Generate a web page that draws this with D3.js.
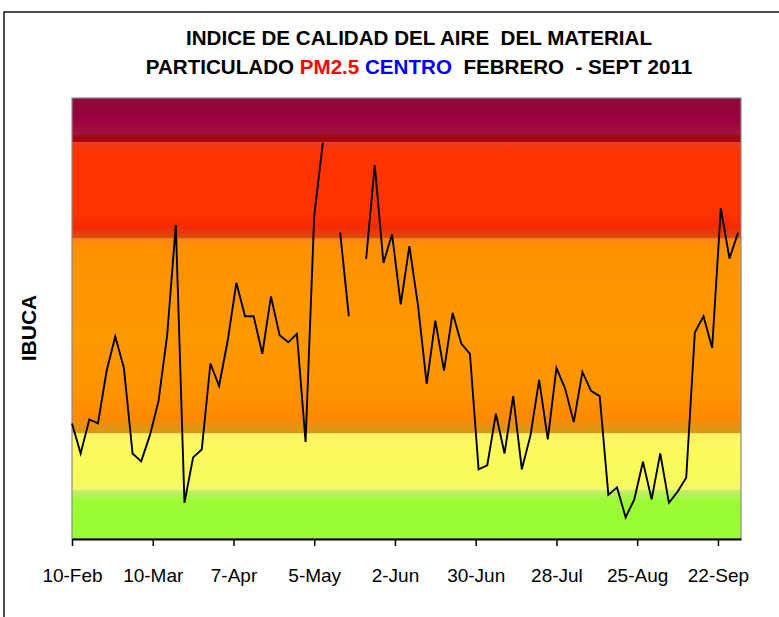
<!DOCTYPE html>
<html>
<head>
<meta charset="utf-8">
<script src="https://cdn.jsdelivr.net/npm/d3@7"></script>
<style>
  body { margin: 0; background: #fff; }
  svg { display: block; }
</style>
</head>
<body>
<div id="chart"></div>
<script>
// samples every 3 days starting 10-Feb-2011 (null = no sample)
const startDate = "2011-02-10";
const stepDays = 3;
const ibuca = [
  26.2, 19.4, 27.1, 26.2, 38.1, 45.9, 38.8, 19.4, 17.6, 23.5,
  31.3, 46.2, 71.2, 8.2, 18.5, 20.3, 39.8, 34.7, 45.0, 58.1,
  50.5, 50.5, 42.0, 55.0, 46.2, 44.6, 46.5, 22.0, 73.3, 89.9,
  null, 69.5, 50.5, null, 63.5, 84.8, 62.6, 69.1, 53.2, 66.4,
  52.9, 35.2, 49.5, 38.2, 51.3, 44.3, 42.0, 15.8, 16.7, 28.4,
  19.4, 32.4, 15.8, 23.5, 36.1, 22.6, 38.8, 34.1, 26.5, 37.9,
  33.6, 32.4, 10.0, 11.7, 4.9, 9.0, 17.5, 9.0, 19.4, 8.2,
  10.7, 13.9, 46.9, 50.5, 43.3, 75.0, 63.6, 69.5
];

const tickDates = ["2011-02-10", "2011-03-10", "2011-04-07", "2011-05-05", "2011-06-02",
  "2011-06-30", "2011-07-28", "2011-08-25", "2011-09-22"];

// IBUCA bands (lower limit, upper limit)
const bandNames = ["buena", "moderada", "regular", "mala", "muy mala"];
const bandLow = [0, 11.1, 24.0, 68.1, 90.0];
const bandHigh = [11.1, 24.0, 68.1, 90.0, 100];

const parse = d3.timeParse("%Y-%m-%d");
const t0 = parse(startDate);
const data = ibuca.map((v, i) => ({ date: d3.timeDay.offset(t0, i * stepDays), value: v }));

const W = 779, H = 617;
const margin = { top: 98, right: 38, bottom: 78, left: 72 };
const width = W - margin.left - margin.right;
const height = H - margin.top - margin.bottom;

const svg = d3.select("#chart").append("svg")
  .attr("width", W)
  .attr("height", H);

// outer frame
svg.append("rect")
  .attr("x", 4).attr("y", 12)
  .attr("width", 900).attr("height", 900)
  .attr("fill", "none")
  .attr("stroke", "#111")
  .attr("stroke-width", 1.5);

const g = svg.append("g")
  .attr("transform", `translate(${margin.left},${margin.top})`);

const x = d3.scaleTime()
  .domain([t0, parse("2011-09-30")])
  .range([0, width]);

const y = d3.scaleLinear()
  .domain([0, 100])
  .range([height, 0]);

// gradients for the bands (Excel-ish soft edges)
const defs = svg.append("defs");
const bandStops = [
  [[0, "#a6f048"], [0.12, "#99ff33"], [0.8, "#9cfc36"], [0.9, "#b2f25a"], [1, "#c6ee66"]],
  [[0, "#f2f870"], [0.15, "#f8fa5c"], [0.7, "#fbfb5e"], [0.9, "#fdf762"], [1, "#fff066"]],
  [[0, "#d89a10"], [0.04, "#e89010"], [0.08, "#ff8a00"], [0.2, "#ff9300"], [0.5, "#ff9900"], [0.96, "#ff9100"], [1, "#ff861c"]],
  [[0, "#d85200"], [0.06, "#e63c10"], [0.12, "#f52a00"], [0.25, "#ff3300"], [0.9, "#ff3300"], [1, "#ea3a20"]],
  [[0, "#a80010"], [0.14, "#a00818"], [0.2, "#a0143c"], [0.5, "#9c003c"], [1, "#8c0a3c"]]
];
bandNames.forEach((name, i) => {
  const grad = defs.append("linearGradient")
    .attr("id", "band-" + i)
    .attr("x1", 0).attr("y1", 1)
    .attr("x2", 0).attr("y2", 0);
  bandStops[i].forEach(s => {
    grad.append("stop").attr("offset", s[0]).attr("stop-color", s[1]);
  });
});

g.selectAll("rect.band")
  .data(bandNames)
  .join("rect")
  .attr("class", "band")
  .attr("x", 0)
  .attr("width", width)
  .attr("y", (d, i) => y(bandHigh[i]))
  .attr("height", (d, i) => y(bandLow[i]) - y(bandHigh[i]))
  .attr("fill", (d, i) => `url(#band-${i})`);

// plot border
g.append("rect")
  .attr("width", width)
  .attr("height", height)
  .attr("fill", "none")
  .attr("stroke", "#8a8a8a")
  .attr("stroke-width", 1.2);

// line
const line = d3.line()
  .defined(d => d.value !== null)
  .x(d => x(d.date))
  .y(d => y(d.value));

g.append("path")
  .datum(data)
  .attr("fill", "none")
  .attr("stroke", "#000")
  .attr("stroke-width", 1.9)
  .attr("stroke-linejoin", "miter")
  .attr("d", line);

// x axis
const xAxis = g.append("g")
  .attr("transform", `translate(0,${height})`)
  .call(d3.axisBottom(x)
    .tickValues(tickDates.map(parse))
    .tickSize(7)
    .tickSizeOuter(0)
    .tickPadding(23)
    .tickFormat(d3.timeFormat("%-d-%b")));

xAxis.select(".domain").attr("stroke", "#000").attr("stroke-width", 2.2);
xAxis.selectAll(".tick line").attr("stroke", "#000").attr("stroke-width", 1.5);
xAxis.selectAll(".tick text")
  .attr("fill", "#000")
  .style("font-family", "'Liberation Sans Narrow', 'Arial Narrow', sans-serif")
  .style("font-size", "19px");

// y label
svg.append("text")
  .attr("transform", "translate(36,328) rotate(-90)")
  .attr("text-anchor", "middle")
  .style("font-family", "'Liberation Sans', Arial, sans-serif")
  .style("font-weight", "bold")
  .style("font-size", "21px")
  .text("IBUCA");

// title
const titleFont = "'Liberation Sans Narrow', 'Arial Narrow', sans-serif";
svg.append("text")
  .attr("x", 419).attr("y", 45)
  .attr("text-anchor", "middle")
  .style("font-family", titleFont)
  .style("font-weight", "bold")
  .style("font-size", "20.6px")
  .style("white-space", "pre")
  .text("INDICE DE CALIDAD DEL AIRE  DEL MATERIAL");

const t2 = svg.append("text")
  .attr("x", 419).attr("y", 74)
  .attr("text-anchor", "middle")
  .style("font-family", titleFont)
  .style("font-weight", "bold")
  .style("font-size", "20.6px")
  .style("white-space", "pre");
t2.append("tspan").text("PARTICULADO ");
t2.append("tspan").attr("fill", "#ff0000").text("PM2.5 ");
t2.append("tspan").attr("fill", "#0000ff").text("CENTRO ");
t2.append("tspan").text(" FEBRERO  - SEPT 2011");
</script>
</body>
</html>
